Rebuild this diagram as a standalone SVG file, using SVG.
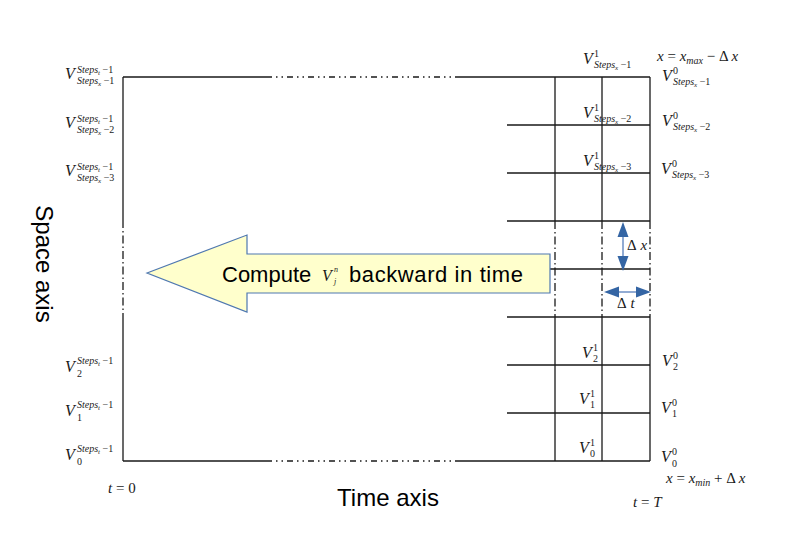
<svg xmlns="http://www.w3.org/2000/svg" width="794" height="559" viewBox="0 0 794 559">
<style>
.ln{stroke:#1a1a1a;stroke-width:1.3;fill:none}
.dh{stroke-dasharray:6 4 1.5 4 1.5 4}
.dv{stroke-dasharray:8 3 1.5 3}
.m{font-family:"Liberation Serif",serif;font-style:italic;fill:#1a1a1a}
.u{font-family:"Liberation Serif",serif;font-style:normal}
.v{font-size:16px}
.s{font-size:10px}
.ss{font-size:7px}
.sans{font-family:"Liberation Sans",Arial,sans-serif;fill:#000}
.blue{fill:#3465a4}
</style>
<rect width="794" height="559" fill="#fff"/>
<g id="grid">
<path class="ln" d="M123 77H266M457 77H650M123 461H266M457 461H650"/>
<path class="ln dh" d="M266 77H457M266 461H457"/>
<path class="ln" d="M123 77V220M123 320V461"/>
<path class="ln dv" d="M123 220V320"/>
<path class="ln" d="M555 77V221M555 317V461M602 77V221M602 317V461M650 77V221M650 317V461"/>
<path class="ln dv" d="M555 221V317M602 221V317M650 221V317"/>
<path class="ln" d="M507 125H650M507 173H650M507 221H650M507 269H650M507 317H650M507 365H650M507 413H650"/>
</g>
<g id="compute-arrow">
<polygon points="147,273 247,235 247,254 550,254 550,293 247,293 247,312" fill="#ffffcc" stroke="#4f78b0" stroke-width="1.2"/>
<text class="sans" x="222" y="282" font-size="22">Compute</text>
<text class="m" x="322" y="281" font-size="16">V</text>
<text class="m" x="334" y="272" font-size="8">n</text>
<text class="m" x="334" y="284" font-size="8">j</text>
<text class="sans" x="349" y="282" font-size="22" textLength="174">backward in time</text>
</g>
<g id="dx-arrow">
<line x1="623" y1="236" x2="623" y2="257" stroke="#6d8fc4" stroke-width="1.5"/>
<polygon class="blue" points="623,222 617.5,237 628.5,237"/>
<polygon class="blue" points="623,271 617.5,256 628.5,256"/>
<text class="m" x="627" y="250" font-size="15"><tspan class="u">Δ</tspan> x</text>
</g>
<g id="dt-arrow">
<line x1="618" y1="292" x2="637" y2="292" stroke="#6d8fc4" stroke-width="1.5"/>
<polygon class="blue" points="604,292 619,286.5 619,297.5"/>
<polygon class="blue" points="651,292 636,286.5 636,297.5"/>
<text class="m" x="617" y="308" font-size="15"><tspan class="u">Δ</tspan> t</text>
</g>
<g id="left-labels" class="m">
<text class="v" x="65" y="79">V</text>
<text class="s" x="77" y="73">Steps<tspan class="ss" dy="1.5">t</tspan><tspan class="u" dy="-1.5"> −1</tspan></text>
<text class="s" x="77" y="84">Steps<tspan class="ss" dy="1.5">x</tspan><tspan class="u" dy="-1.5"> −1</tspan></text>
<text class="v" x="65" y="128">V</text>
<text class="s" x="77" y="122">Steps<tspan class="ss" dy="1.5">t</tspan><tspan class="u" dy="-1.5"> −1</tspan></text>
<text class="s" x="77" y="133">Steps<tspan class="ss" dy="1.5">x</tspan><tspan class="u" dy="-1.5"> −2</tspan></text>
<text class="v" x="65" y="176">V</text>
<text class="s" x="77" y="170">Steps<tspan class="ss" dy="1.5">t</tspan><tspan class="u" dy="-1.5"> −1</tspan></text>
<text class="s" x="77" y="181">Steps<tspan class="ss" dy="1.5">x</tspan><tspan class="u" dy="-1.5"> −3</tspan></text>
<text class="v" x="65" y="372">V</text>
<text class="s" x="77" y="364">Steps<tspan class="ss" dy="1.5">t</tspan><tspan class="u" dy="-1.5"> −1</tspan></text>
<text class="s u" x="77" y="377">2</text>
<text class="v" x="65" y="416">V</text>
<text class="s" x="77" y="408">Steps<tspan class="ss" dy="1.5">t</tspan><tspan class="u" dy="-1.5"> −1</tspan></text>
<text class="s u" x="77" y="421">1</text>
<text class="v" x="65" y="460">V</text>
<text class="s" x="77" y="452">Steps<tspan class="ss" dy="1.5">t</tspan><tspan class="u" dy="-1.5"> −1</tspan></text>
<text class="s u" x="77" y="465">0</text>
<text x="108" y="493" font-size="15">t<tspan class="u"> = 0</tspan></text>
</g>
<g id="inner-labels" class="m">
<text class="v" x="583" y="64">V</text>
<text class="s u" x="594" y="57">1</text>
<text class="s" x="594" y="68">Steps<tspan class="ss" dy="1.5">x</tspan><tspan class="u" dy="-1.5"> −1</tspan></text>
<text class="v" x="583" y="118">V</text>
<text class="s u" x="594" y="111">1</text>
<text class="s" x="594" y="122">Steps<tspan class="ss" dy="1.5">x</tspan><tspan class="u" dy="-1.5"> −2</tspan></text>
<text class="v" x="583" y="166">V</text>
<text class="s u" x="594" y="159">1</text>
<text class="s" x="594" y="170">Steps<tspan class="ss" dy="1.5">x</tspan><tspan class="u" dy="-1.5"> −3</tspan></text>
<text class="v" x="582" y="358">V</text>
<text class="s u" x="593" y="351">1</text>
<text class="s u" x="593" y="362">2</text>
<text class="v" x="579" y="404">V</text>
<text class="s u" x="590" y="397">1</text>
<text class="s u" x="590" y="408">1</text>
<text class="v" x="579" y="453">V</text>
<text class="s u" x="590" y="446">1</text>
<text class="s u" x="590" y="457">0</text>
</g>
<g id="right-labels" class="m">
<text x="657" y="61" font-size="15">x<tspan class="u"> = </tspan>x<tspan font-size="10" dy="3">max</tspan><tspan class="u" dy="-3"> − Δ </tspan>x</text>
<text class="v" x="662" y="81">V</text>
<text class="s u" x="673" y="74">0</text>
<text class="s" x="673" y="85">Steps<tspan class="ss" dy="1.5">x</tspan><tspan class="u" dy="-1.5"> −1</tspan></text>
<text class="v" x="662" y="126">V</text>
<text class="s u" x="673" y="119">0</text>
<text class="s" x="673" y="130">Steps<tspan class="ss" dy="1.5">x</tspan><tspan class="u" dy="-1.5"> −2</tspan></text>
<text class="v" x="661" y="174">V</text>
<text class="s u" x="672" y="167">0</text>
<text class="s" x="672" y="178">Steps<tspan class="ss" dy="1.5">x</tspan><tspan class="u" dy="-1.5"> −3</tspan></text>
<text class="v" x="662" y="366">V</text>
<text class="s u" x="673" y="359">0</text>
<text class="s u" x="673" y="370">2</text>
<text class="v" x="661" y="413">V</text>
<text class="s u" x="672" y="406">0</text>
<text class="s u" x="672" y="417">1</text>
<text class="v" x="661" y="462">V</text>
<text class="s u" x="672" y="455">0</text>
<text class="s u" x="672" y="467">0</text>
<text x="666" y="483" font-size="15">x<tspan class="u"> = </tspan>x<tspan font-size="10" dy="3">min</tspan><tspan class="u" dy="-3"> + Δ </tspan>x</text>
<text x="633" y="507" font-size="15">t<tspan class="u"> = </tspan>T</text>
</g>
<g id="axis-titles" class="sans">
<text x="388" y="506" font-size="24" text-anchor="middle">Time axis</text>
<text transform="translate(36,264) rotate(90)" font-size="24" text-anchor="middle">Space axis</text>
</g>
</svg>
